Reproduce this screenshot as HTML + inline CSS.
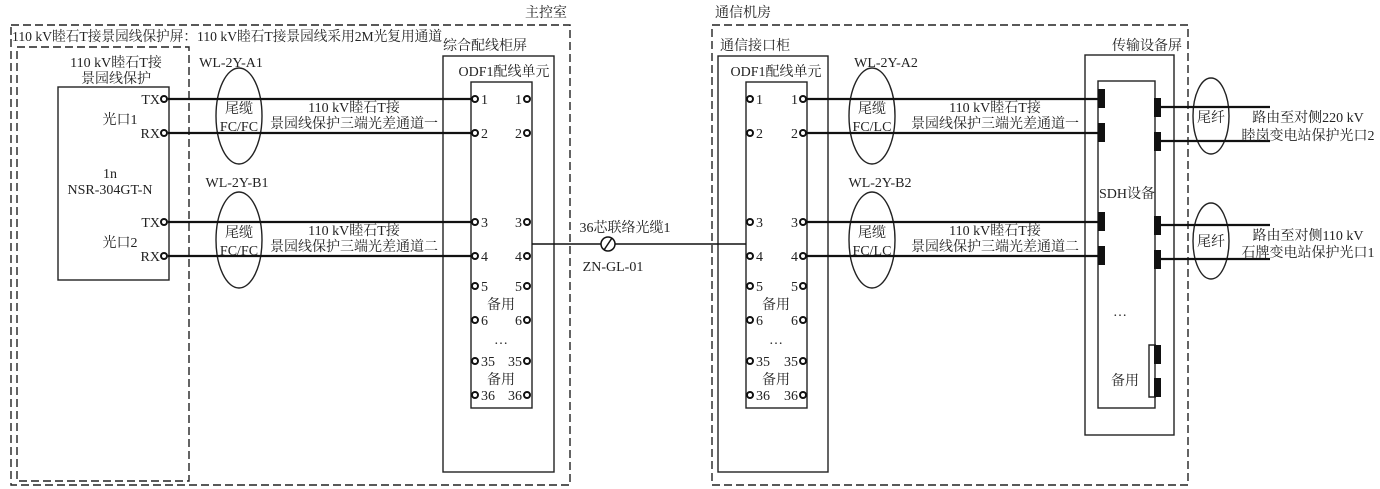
<!DOCTYPE html>
<html><head><meta charset="utf-8"><style>
html,body{margin:0;padding:0;background:#fff;}
svg{display:block;}
text{font-family:"Liberation Serif","Noto Serif CJK SC",serif;font-size:14px;fill:#222;}
</style></head><body>
<svg width="1380" height="489" viewBox="0 0 1380 489" xmlns="http://www.w3.org/2000/svg">
<g fill="none" stroke="#222" stroke-width="1.4">
<rect x="11" y="25" width="559" height="460" stroke-dasharray="8,4"/>
<rect x="712" y="25" width="476" height="460" stroke-dasharray="8,4"/>
<rect x="17" y="47" width="172" height="434" stroke-dasharray="8,4"/>
<rect x="58" y="87" width="111" height="193"/>
<rect x="443" y="56" width="111" height="416"/>
<rect x="471" y="82" width="61" height="326"/>
<rect x="718" y="56" width="110" height="416"/>
<rect x="746" y="82" width="61" height="326"/>
<rect x="1085" y="55" width="89" height="380"/>
<rect x="1098" y="81" width="57" height="327"/>
<ellipse cx="239" cy="116" rx="23" ry="48"/>
<ellipse cx="239" cy="240" rx="23" ry="48"/>
<ellipse cx="872" cy="116" rx="23" ry="48"/>
<ellipse cx="872" cy="240" rx="23" ry="48"/>
<ellipse cx="1211" cy="116" rx="18" ry="38"/>
<ellipse cx="1211" cy="241" rx="18" ry="38"/>
<path d="M1156 345 H1149 V397 H1156"/>
</g>
<g stroke="#111" stroke-width="2.2" fill="none">
<line x1="168" y1="99" x2="471" y2="99"/>
<line x1="168" y1="133" x2="471" y2="133"/>
<line x1="168" y1="222" x2="471" y2="222"/>
<line x1="168" y1="256" x2="471" y2="256"/>
<line x1="807" y1="99" x2="1100" y2="99"/>
<line x1="807" y1="133" x2="1100" y2="133"/>
<line x1="807" y1="222" x2="1100" y2="222"/>
<line x1="807" y1="256" x2="1100" y2="256"/>
<line x1="1160" y1="107" x2="1270" y2="107"/>
<line x1="1160" y1="141" x2="1270" y2="141"/>
<line x1="1160" y1="225" x2="1270" y2="225"/>
<line x1="1160" y1="259" x2="1270" y2="259"/>
<line x1="532" y1="244" x2="601" y2="244" stroke-width="1.6"/>
<line x1="615" y1="244" x2="746" y2="244" stroke-width="1.6"/>
</g>
<circle cx="608" cy="244" r="7" fill="none" stroke="#111" stroke-width="1.5"/>
<line x1="604" y1="250" x2="612" y2="238" stroke="#111" stroke-width="1.5"/>
<g fill="#fff" stroke="#111" stroke-width="2">
<circle cx="164" cy="99" r="3"/><circle cx="164" cy="133" r="3"/><circle cx="164" cy="222" r="3"/><circle cx="164" cy="256" r="3"/>
<circle cx="475" cy="99" r="3"/><circle cx="475" cy="133" r="3"/><circle cx="475" cy="222" r="3"/><circle cx="475" cy="256" r="3"/>
<circle cx="475" cy="286" r="3"/><circle cx="475" cy="320" r="3"/><circle cx="475" cy="361" r="3"/><circle cx="475" cy="395" r="3"/>
<circle cx="527" cy="99" r="3"/><circle cx="527" cy="133" r="3"/><circle cx="527" cy="222" r="3"/><circle cx="527" cy="256" r="3"/>
<circle cx="527" cy="286" r="3"/><circle cx="527" cy="320" r="3"/><circle cx="527" cy="361" r="3"/><circle cx="527" cy="395" r="3"/>
<circle cx="750" cy="99" r="3"/><circle cx="750" cy="133" r="3"/><circle cx="750" cy="222" r="3"/><circle cx="750" cy="256" r="3"/>
<circle cx="750" cy="286" r="3"/><circle cx="750" cy="320" r="3"/><circle cx="750" cy="361" r="3"/><circle cx="750" cy="395" r="3"/>
<circle cx="803" cy="99" r="3"/><circle cx="803" cy="133" r="3"/><circle cx="803" cy="222" r="3"/><circle cx="803" cy="256" r="3"/>
<circle cx="803" cy="286" r="3"/><circle cx="803" cy="320" r="3"/><circle cx="803" cy="361" r="3"/><circle cx="803" cy="395" r="3"/>
</g>
<g fill="#111">
<rect x="1098" y="89" width="7" height="19"/><rect x="1098" y="123" width="7" height="19"/>
<rect x="1098" y="212" width="7" height="19"/><rect x="1098" y="246" width="7" height="19"/>
<rect x="1154" y="98" width="7" height="19"/><rect x="1154" y="132" width="7" height="19"/>
<rect x="1154" y="216" width="7" height="19"/><rect x="1154" y="250" width="7" height="19"/>
<rect x="1154" y="345" width="7" height="19"/><rect x="1154" y="378" width="7" height="19"/>
</g>
<text x="525" y="17">主控室</text>
<text x="715" y="17">通信机房</text>
<text x="12" y="41" textLength="430" lengthAdjust="spacingAndGlyphs">110 kV睦石T接景园线保护屏：110 kV睦石T接景园线采用2M光复用通道</text>
<text x="443" y="50">综合配线柜屏</text>
<text x="720" y="50">通信接口柜</text>
<text x="1112" y="50">传输设备屏</text>
<g text-anchor="middle">
<text x="116" y="67">110 kV睦石T接</text>
<text x="116" y="83">景园线保护</text>
<text x="120" y="124">光口1</text>
<text x="110" y="178">1n</text>
<text x="110" y="194">NSR-304GT-N</text>
<text x="120" y="247">光口2</text>
<text x="231" y="67">WL-2Y-A1</text>
<text x="237" y="187">WL-2Y-B1</text>
<text x="239" y="113">尾缆</text><text x="239" y="131">FC/FC</text>
<text x="239" y="237">尾缆</text><text x="239" y="255">FC/FC</text>
<text x="354" y="112">110 kV睦石T接</text>
<text x="354" y="128">景园线保护三端光差通道一</text>
<text x="354" y="235">110 kV睦石T接</text>
<text x="354" y="251">景园线保护三端光差通道二</text>
<text x="504" y="76">ODF1配线单元</text>
<text x="776" y="76">ODF1配线单元</text>
<text x="886" y="67">WL-2Y-A2</text>
<text x="880" y="187">WL-2Y-B2</text>
<text x="872" y="113">尾缆</text><text x="872" y="131">FC/LC</text>
<text x="872" y="237">尾缆</text><text x="872" y="255">FC/LC</text>
<text x="995" y="112">110 kV睦石T接</text>
<text x="995" y="128">景园线保护三端光差通道一</text>
<text x="995" y="235">110 kV睦石T接</text>
<text x="995" y="251">景园线保护三端光差通道二</text>
<text x="625" y="232">36芯联络光缆1</text>
<text x="613" y="271">ZN-GL-01</text>
<text x="1127" y="198">SDH设备</text>
<text x="1120" y="316">…</text>
<text x="1125" y="385">备用</text>
<text x="1211" y="122">尾纤</text>
<text x="1211" y="246">尾纤</text>
<text x="1308" y="122">路由至对侧220 kV</text>
<text x="1308" y="140">睦岗变电站保护光口2</text>
<text x="1308" y="240">路由至对侧110 kV</text>
<text x="1308" y="257">石牌变电站保护光口1</text>
<text x="501" y="309">备用</text><text x="501" y="344">…</text><text x="501" y="384">备用</text>
<text x="776" y="309">备用</text><text x="776" y="344">…</text><text x="776" y="384">备用</text>
</g>
<g text-anchor="end">
<text x="160" y="104">TX</text><text x="160" y="138">RX</text>
<text x="160" y="227">TX</text><text x="160" y="261">RX</text>
<text x="522" y="104">1</text><text x="522" y="138">2</text><text x="522" y="227">3</text><text x="522" y="261">4</text>
<text x="522" y="291">5</text><text x="522" y="325">6</text><text x="522" y="366">35</text><text x="522" y="400">36</text>
<text x="798" y="104">1</text><text x="798" y="138">2</text><text x="798" y="227">3</text><text x="798" y="261">4</text>
<text x="798" y="291">5</text><text x="798" y="325">6</text><text x="798" y="366">35</text><text x="798" y="400">36</text>
</g>
<g>
<text x="481" y="104">1</text><text x="481" y="138">2</text><text x="481" y="227">3</text><text x="481" y="261">4</text>
<text x="481" y="291">5</text><text x="481" y="325">6</text><text x="481" y="366">35</text><text x="481" y="400">36</text>
<text x="756" y="104">1</text><text x="756" y="138">2</text><text x="756" y="227">3</text><text x="756" y="261">4</text>
<text x="756" y="291">5</text><text x="756" y="325">6</text><text x="756" y="366">35</text><text x="756" y="400">36</text>
</g>
</svg>
</body></html>
